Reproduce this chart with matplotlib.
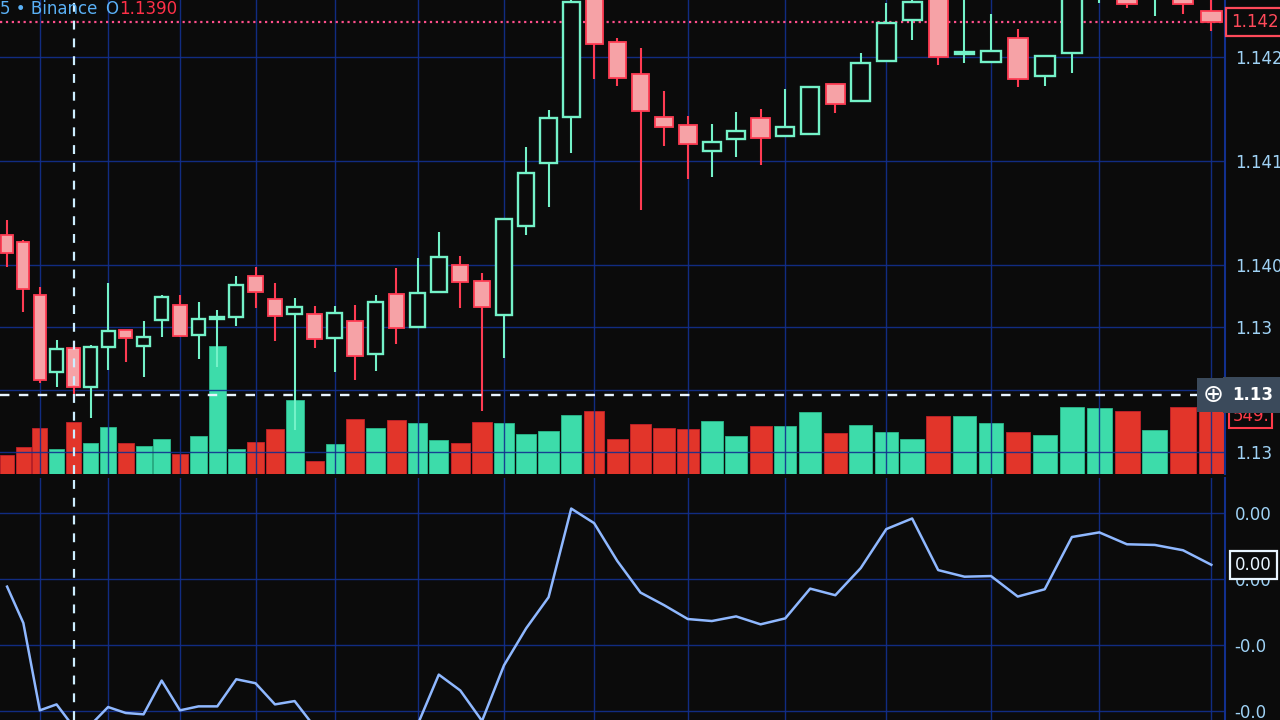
import numpy as np
import matplotlib
matplotlib.use("Agg")
import matplotlib.pyplot as plt
import matplotlib.transforms as mtransforms

# =============================
# DATA
# =============================
opens = [1.14029, 1.14022, 1.13971, 1.13897, 1.13920, 1.13883, 1.13921, 1.13938, 1.13922, 1.13947,
         1.13962, 1.13933, 1.13948, 1.13950, 1.13989, 1.13967, 1.13953, 1.13953, 1.13930, 1.13946,
         1.13914, 1.13972, 1.13940, 1.13974, 1.14000, 1.13985, 1.13952, 1.14038, 1.14098, 1.14142,
         1.14264, 1.14215, 1.14184, 1.14142, 1.14135, 1.14110, 1.14121, 1.14141, 1.14124, 1.14126,
         1.14174, 1.14158, 1.14196, 1.14236, 1.14260, 1.14203, 1.14195, 1.14218, 1.14182, 1.14204,
         1.14262, 1.14264, 1.14257, 1.14262, 1.14244]
highs = [1.14043, 1.14024, 1.13979, 1.13928, 1.13926, 1.13923, 1.13983, 1.13938, 1.13946, 1.13971,
         1.13971, 1.13964, 1.13957, 1.13989, 1.13998, 1.13983, 1.13968, 1.13961, 1.13961, 1.13962,
         1.13971, 1.13997, 1.14007, 1.14032, 1.14009, 1.13992, 1.14044, 1.14114, 1.14149, 1.14262,
         1.14269, 1.14218, 1.14209, 1.14167, 1.14143, 1.14136, 1.14147, 1.14150, 1.14169, 1.14171,
         1.14174, 1.14204, 1.14252, 1.14260, 1.14264, 1.14264, 1.14242, 1.14227, 1.14201, 1.14264,
         1.14279, 1.14269, 1.14272, 1.14268, 1.14257]
lows = [1.13998, 1.13955, 1.13887, 1.13883, 1.13872, 1.13853, 1.13899, 1.13907, 1.13892, 1.13931,
        1.13931, 1.13910, 1.13902, 1.13941, 1.13959, 1.13927, 1.13841, 1.13920, 1.13897, 1.13889,
        1.13898, 1.13924, 1.13940, 1.13974, 1.13959, 1.13860, 1.13911, 1.14029, 1.14056, 1.14108,
        1.14179, 1.14172, 1.14053, 1.14115, 1.14083, 1.14085, 1.14104, 1.14096, 1.14124, 1.14126,
        1.14146, 1.14158, 1.14196, 1.14217, 1.14192, 1.14194, 1.14195, 1.14171, 1.14172, 1.14185,
        1.14252, 1.14247, 1.14240, 1.14242, 1.14225]
closes = [1.14012, 1.13977, 1.13889, 1.13919, 1.13883, 1.13921, 1.13937, 1.13930, 1.13931, 1.13969,
          1.13932, 1.13948, 1.13950, 1.13981, 1.13974, 1.13951, 1.13960, 1.13929, 1.13954, 1.13913,
          1.13964, 1.13939, 1.13973, 1.14008, 1.13984, 1.13960, 1.14044, 1.14089, 1.14141, 1.14253,
          1.14213, 1.14180, 1.14148, 1.14133, 1.14116, 1.14118, 1.14129, 1.14122, 1.14133, 1.14171,
          1.14155, 1.14194, 1.14233, 1.14253, 1.14200, 1.14205, 1.14206, 1.14179, 1.14201, 1.14260,
          1.14274, 1.14251, 1.14268, 1.14251, 1.14234]
volumes = [156, 221, 377, 205, 426, 254, 385, 254, 230, 287,
           164, 312, 1050, 205, 262, 369, 607, 107, 246, 451,
           377, 443, 418, 279, 254, 426, 418, 328, 353, 484,
           517, 287, 410, 377, 369, 435, 312, 394, 394, 508,
           336, 402, 344, 287, 476, 476, 418, 344, 320, 549,
           541, 517, 361, 549, 549]
osc = [-0.00012, -0.00067, -0.00199, -0.00190, -0.00224, -0.00221, -0.00194, -0.00203, -0.00205, -0.00154,
       -0.00199, -0.00193, -0.00193, -0.00152, -0.00158, -0.00190, -0.00185, -0.00224, -0.00239, -0.00246,
       -0.00239, -0.00231, -0.00221, -0.00145, -0.00169, -0.00215, -0.00131, -0.00075, -0.00028, 0.00106,
       0.00084, 0.00027, -0.00021, -0.00040, -0.00061, -0.00064, -0.00057, -0.00069, -0.00060, -0.00015,
       -0.00025, 0.00016, 0.00075, 0.00091, 0.00013, 0.00003, 0.00004, -0.00027, -0.00016, 0.00063,
       0.00070, 0.00052, 0.00051, 0.00043, 0.00021]

price_ticks = [1.1420, 1.1410, 1.1400, 1.1394, 1.1388, 1.1382]
price_labels = ["1.142", "1.141", "1.140", "1.13", "", "1.13"]
osc_ticks = [0.001, 0.0, -0.001, -0.002]
osc_labels = ["0.00", "0.00", "-0.0", "-0.0"]
cross_price = 1.13875
cross_bar = 4

# =============================
# STYLE
# =============================
bg = "#0b0b0b"
grid_c = "#12308f"
label_c = "#9fd2f5"
green = "#74f2c8"
green_vol = "#3ddcaa"
red_edge = "#ff3b52"
red_body = "#f6a2a6"
red_vol = "#e2352a"
fs = 12

# screen photographed at an angle: bars get wider toward the right
P1, P2 = 16.15, 0.1139


def fwd(x):
    x = np.asarray(x, dtype=float)
    return P1 * x + P2 * x * x


def inv(p):
    p = np.asarray(p, dtype=float)
    return (-P1 + np.sqrt(np.maximum(P1 * P1 + 4 * P2 * p, 0))) / (2 * P2)


o = np.array(opens)
h = np.array(highs)
l = np.array(lows)
c = np.array(closes)
v = np.array(volumes)
idx = np.arange(len(o))
up = c >= o

fig = plt.figure(figsize=(12.8, 7.2), dpi=100, facecolor=bg)
rect_price = [0, 1 - 474 / 720, 1225 / 1280, 474 / 720]
rect_osc = [0, 0, 1225 / 1280, 1 - 478 / 720]

ax_vol = fig.add_axes(rect_price, facecolor=bg)
ax_vol.set_xscale("function", functions=(fwd, inv))
ax = fig.add_axes(rect_price, sharex=ax_vol)
ax.patch.set_visible(False)
ax_osc = fig.add_axes(rect_osc, sharex=ax_vol, facecolor=bg)

ax_vol.set_xlim(-0.44, 54.48)
ax_vol.set_xticks(list(range(2, 55, 4)))

# volume bars behind the candles
ax_vol.bar(idx[up], v[up], width=0.9, color=green_vol, edgecolor="#2bb98c", lw=0.6, zorder=2)
ax_vol.bar(idx[~up], v[~up], width=0.9, color=red_vol, edgecolor="#c4202a", lw=0.6, zorder=2)
ax_vol.set_ylim(0, 474 * 8.2)
ax_vol.tick_params(length=0, labelbottom=False, labelleft=False)
for s in ax_vol.spines.values():
    s.set_visible(False)
ax_vol.text(1.006, v[-1], "549.", transform=mtransforms.blended_transform_factory(ax_vol.transAxes, ax_vol.transData),
            color="#ff3b4a", fontsize=fs, va="top", ha="left", clip_on=False,
            bbox=dict(boxstyle="square,pad=0.2", fc=bg, ec="#ff3b4a", lw=1.5))

# candles
ax.grid(True, color=grid_c, lw=1.0, alpha=0.9, zorder=1)
ax.axhline(c[-1], color="#ff4f8b", ls=":", lw=1.6, zorder=2)
ax.vlines(idx[up], l[up], h[up], color=green, lw=1.5, zorder=3)
ax.vlines(idx[~up], l[~up], h[~up], color=red_edge, lw=1.5, zorder=3)
body_lo = np.minimum(o, c)
body_h = np.maximum(np.abs(c - o), 0.00001)
ax.bar(idx[up], body_h[up], bottom=body_lo[up], width=0.74, facecolor=bg, edgecolor=green, lw=1.7, zorder=4)
ax.bar(idx[~up], body_h[~up], bottom=body_lo[~up], width=0.74, facecolor=red_body, edgecolor=red_edge, lw=1.3, zorder=4)

# crosshair
ax.axhline(cross_price, color="#e8f4ff", ls=(0, (4, 4)), lw=1.7, zorder=5)
ax.axvline(cross_bar, color="#cdeeff", ls=(0, (4, 4)), lw=1.6, zorder=5)
ax_osc.axvline(cross_bar, color="#cdeeff", ls=(0, (4, 4)), lw=1.6, zorder=5)

ax.set_ylim(1.13799, 1.14255)
ax.yaxis.tick_right()
ax.set_yticks(price_ticks)
ax.set_yticklabels(price_labels)
ax.tick_params(axis="y", length=0, pad=7, labelsize=fs, labelcolor=label_c)
ax.tick_params(axis="x", length=0, labelbottom=False)
for name, s in ax.spines.items():
    s.set_visible(name == "right")
ax.spines["right"].set_color(grid_c)
ax.spines["right"].set_linewidth(1.5)

tr = mtransforms.blended_transform_factory(ax.transAxes, ax.transData)
ax.text(1.005, c[-1], "1.142", transform=tr, color="#ff4a5a", fontsize=fs, va="center", ha="left",
        clip_on=False, zorder=10, bbox=dict(boxstyle="square,pad=0.3", fc=bg, ec="#ff4a5a", lw=1.6))
ax.text(0.99, cross_price, "⊕", transform=tr, color="white", fontsize=18, va="center", ha="center",
        clip_on=False, zorder=10, bbox=dict(boxstyle="square,pad=0.2", fc="#3b4a5b", ec="none"))
ax.text(1.006, cross_price, "1.13", transform=tr, color="white", fontsize=fs, fontweight="bold",
        va="center", ha="left", clip_on=False, zorder=10,
        bbox=dict(boxstyle="square,pad=0.55", fc="#3b4a5b", ec="none"))

# oscillator pane
ax_osc.grid(True, color=grid_c, lw=1.0, alpha=0.9, zorder=1)
ax_osc.plot(idx, osc, color="#8fb8ff", lw=1.8, zorder=3)
ax_osc.set_ylim(-0.002136, 0.001522)
ax_osc.yaxis.tick_right()
ax_osc.set_yticks(osc_ticks)
ax_osc.set_yticklabels(osc_labels)
ax_osc.tick_params(axis="y", length=0, pad=7, labelsize=fs, labelcolor=label_c)
ax_osc.tick_params(axis="x", length=0, labelbottom=False)
for name, s in ax_osc.spines.items():
    s.set_visible(name == "right")
ax_osc.spines["right"].set_color(grid_c)
ax_osc.spines["right"].set_linewidth(1.5)
tr_osc = mtransforms.blended_transform_factory(ax_osc.transAxes, ax_osc.transData)
ax_osc.text(1.008, osc[-1], "0.00", transform=tr_osc, color="#e9f5ff", fontsize=fs, va="center", ha="left",
            clip_on=False, zorder=10, bbox=dict(boxstyle="square,pad=0.3", fc=bg, ec="#e9f5ff", lw=1.6))

# header text at the top edge, each piece placed after the previous one
renderer = fig.canvas.get_renderer()
x_px = 0
for part, col, gap in [("5 • Binance", "#5ab0f5", 8), ("O", "#5ab0f5", 1), ("1.1390", "#ff3048", 0)]:
    t = fig.text(x_px / 1280, 1 - 14 / 720, part, color=col, fontsize=fs, va="baseline")
    x_px = t.get_window_extent(renderer).x1 + gap

fig.savefig("out.png", dpi=100, facecolor=bg)
